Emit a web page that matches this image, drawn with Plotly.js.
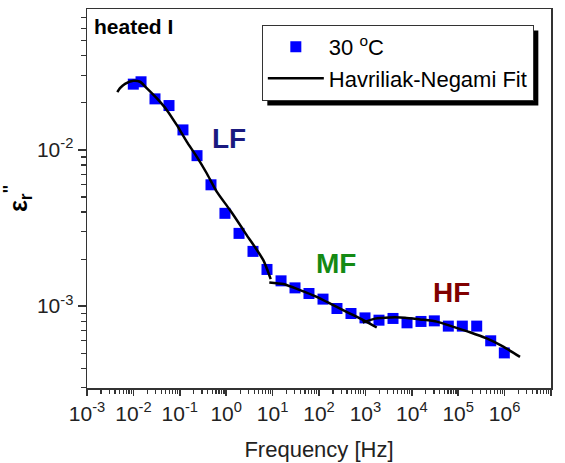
<!DOCTYPE html>
<html>
<head>
<meta charset="utf-8">
<script src="https://cdn.plot.ly/plotly-3.0.1.min.js"></script>
<style>
  html, body { margin: 0; padding: 0; background: #fff; }
  #chart { width: 565px; height: 463px; }
</style>
</head>
<body>
<div id="chart"></div>
<script>
// Measured data: 30 °C (heated I)
const freqHz = [0.00995, 0.0146, 0.0292, 0.0585, 0.117, 0.235, 0.47, 0.94, 1.89, 3.78, 7.57,
  15.2, 30.4, 60.8, 122, 244, 489, 980, 1963, 3935, 7885, 15780, 30560, 61200, 122700,
  250600, 502000, 986000];
const epsR = [0.02636, 0.0273, 0.02122, 0.01923, 0.01343, 0.00919, 0.00598, 0.003927,
  0.002922, 0.002241, 0.001717, 0.001452, 0.001309, 0.001205, 0.001109, 0.000966,
  0.000897, 0.000841, 0.000813, 0.000834, 0.000782, 0.000798, 0.000805, 0.000745,
  0.000745, 0.000745, 0.0006, 0.000502];

// Havriliak-Negami fit segments
const fitLF_x = [0.0045, 0.00514, 0.00659, 0.00995, 0.01387, 0.01936, 0.03177, 0.0522, 0.0858,
  0.1409, 0.2314, 0.38, 0.624, 1.208, 2.767, 6.31, 9.10];
const fitLF_y = [0.02344, 0.02486, 0.02649, 0.02768, 0.02731, 0.02486, 0.02143, 0.01804, 0.01445,
  0.0113, 0.00906, 0.00709, 0.00541, 0.00412, 0.00285, 0.00197, 0.00149];
const fitMF_x = [8.49, 17.0, 39.0, 89.2, 203, 466, 901, 1754];
const fitMF_y = [0.001419, 0.001384, 0.001267, 0.001148, 0.001015, 0.000897, 0.000813, 0.00073];
const fitHF_x = [875, 1611, 3390, 7130, 15030, 34400, 78400, 179500, 411000, 938000, 2148000];
const fitHF_y = [0.000786, 0.000832, 0.000847, 0.000844, 0.000822, 0.000796, 0.000737,
  0.000681, 0.000621, 0.00055, 0.000473];

// Tick labels
const xTickVals = [1e-3, 1e-2, 1e-1, 1e0, 1e1, 1e2, 1e3, 1e4, 1e5, 1e6, 1e7];
const xTickText = ["10<sup>-3</sup>", "10<sup>-2</sup>", "10<sup>-1</sup>", "10<sup>0</sup>",
  "10<sup>1</sup>", "10<sup>2</sup>", "10<sup>3</sup>", "10<sup>4</sup>", "10<sup>5</sup>",
  "10<sup>6</sup>", "10<sup>7</sup>"];
const yTickVals = [1e-3, 1e-2];
const yTickText = ["10<sup>-3</sup>", "10<sup>-2</sup>"];

const FONT = "Arial, 'Liberation Sans', sans-serif";

const fitLine = { color: "#000000", width: 2.5, shape: "spline", smoothing: 0.6 };
const traces = [
  {
    x: freqHz, y: epsR, type: "scatter", mode: "markers", name: "30 <sup>o</sup>C",
    marker: { symbol: "square", size: 11, color: "#0000ff" }
  },
  {
    x: fitLF_x, y: fitLF_y, type: "scatter", mode: "lines", name: "Havriliak-Negami Fit",
    legendgroup: "fit", line: fitLine
  },
  {
    x: fitMF_x, y: fitMF_y, type: "scatter", mode: "lines", name: "Havriliak-Negami Fit",
    legendgroup: "fit", showlegend: false, line: fitLine
  },
  {
    x: fitHF_x, y: fitHF_y, type: "scatter", mode: "lines", name: "Havriliak-Negami Fit",
    legendgroup: "fit", showlegend: false, line: fitLine
  }
];

const axisCommon = {
  type: "log",
  showgrid: false,
  zeroline: false,
  showline: true,
  linecolor: "#333333",
  linewidth: 1.5,
  mirror: true,
  ticks: "outside",
  tickcolor: "#333333",
  tickwidth: 1.5,
  tickmode: "array",
  tickfont: { family: FONT, size: 21, color: "#222222" }
};

const layout = {
  width: 565, height: 463,
  margin: { l: 87, r: 14, t: 9, b: 75 },
  paper_bgcolor: "#ffffff", plot_bgcolor: "#ffffff",
  font: { family: FONT, color: "#000000" },
  showlegend: true,
  xaxis: Object.assign({}, axisCommon, {
    range: [-3, 7],
    tickvals: xTickVals, ticktext: xTickText,
    ticklen: 6,
    minor: { dtick: "D1", ticks: "outside", ticklen: 4, tickcolor: "#333333", tickwidth: 1.2, showgrid: false },
    title: { text: "Frequency [Hz]", font: { family: FONT, size: 22, color: "#222222" }, standoff: 18 }
  }),
  yaxis: Object.assign({}, axisCommon, {
    range: [-3.524, -1.098],
    tickvals: yTickVals, ticktext: yTickText,
    ticklen: 8,
    minor: { dtick: "D1", ticks: "outside", ticklen: 5, tickcolor: "#333333", tickwidth: 1.2, showgrid: false },
    title: { text: "<b>ε<sub>r</sub><sup>''</sup></b>", font: { family: FONT, size: 25, color: "#000000" }, standoff: 6 }
  }),
  legend: {
    x: 0.963, xanchor: "right", y: 0.958, yanchor: "top",
    bgcolor: "#ffffff", bordercolor: "#333333", borderwidth: 1,
    itemwidth: 56,
    font: { family: FONT, size: 22, color: "#000000" },
    tracegroupgap: 0
  },
  annotations: [
    { text: "<b>heated I</b>", xref: "paper", yref: "paper", x: 0.01, y: 0.99, xanchor: "left", yanchor: "top",
      showarrow: false, font: { family: FONT, size: 21, color: "#000000" } },
    { text: "<b>LF</b>", xref: "paper", yref: "paper", x: 0.305, y: 0.659, xanchor: "center", yanchor: "middle",
      showarrow: false, font: { family: FONT, size: 28, color: "#1a1a80" } },
    { text: "<b>MF</b>", xref: "paper", yref: "paper", x: 0.537, y: 0.328, xanchor: "center", yanchor: "middle",
      showarrow: false, font: { family: FONT, size: 28, color: "#148a14" } },
    { text: "<b>HF</b>", xref: "paper", yref: "paper", x: 0.786, y: 0.253, xanchor: "center", yanchor: "middle",
      showarrow: false, font: { family: FONT, size: 28, color: "#800000" } }
  ]
};

Plotly.newPlot("chart", traces, layout, { displayModeBar: false, staticPlot: true }).then(function (gd) {
  // Drop shadow behind the legend box
  const bg = gd.querySelector(".legend .bg");
  if (!bg) return;
  const r = bg.getBoundingClientRect();
  const c = gd.getBoundingClientRect();
  const fl = gd._fullLayout;
  const pw = fl._size.w, ph = fl._size.h, ml = fl._size.l, mt = fl._size.t;
  const off = 5;
  const x0 = (r.left - c.left + off - ml) / pw;
  const x1 = (r.right - c.left + off - ml) / pw;
  const y0 = 1 - (r.bottom - c.top + off - mt) / ph;
  const y1 = 1 - (r.top - c.top + off - mt) / ph;
  Plotly.relayout(gd, {
    shapes: [{ type: "rect", xref: "paper", yref: "paper", x0: x0, x1: x1, y0: y0, y1: y1,
      fillcolor: "#000000", line: { width: 0 }, layer: "above" }]
  });
});
</script>
</body>
</html>
